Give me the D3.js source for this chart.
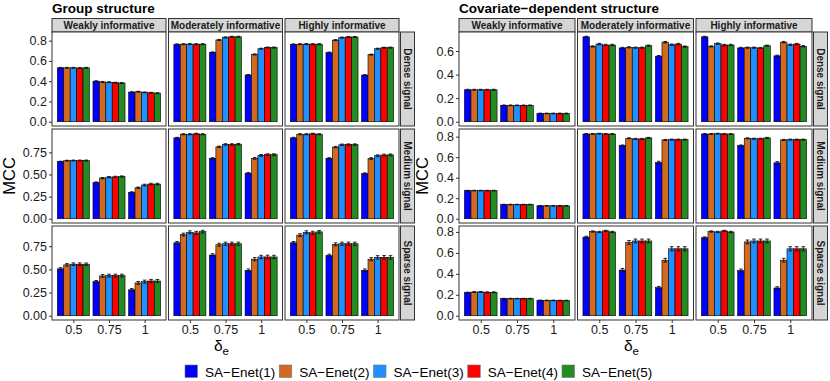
<!DOCTYPE html>
<html><head><meta charset="utf-8">
<script src="https://cdn.jsdelivr.net/npm/d3@7"></script>
<style>body{margin:0;background:#fff}svg{display:block;font-family:"Liberation Sans",Arial,sans-serif}</style>
</head><body><svg id="c" width="830" height="381"></svg>
<script>
const methods = ["SA\u2212Enet(1)","SA\u2212Enet(2)","SA\u2212Enet(3)","SA\u2212Enet(4)","SA\u2212Enet(5)"];
const methodColors = ["#0000FF","#D2691E","#1E90FF","#FF0000","#228B22"];
const deltas = ["0.5","0.75","1"];
const priors = ["Weakly informative","Moderately informative","Highly informative"];
const signals = ["Dense signal","Medium signal","Sparse signal"];
const structures = ["Group structure","Covariate\u2212dependent structure"];

// Group structure: [delta][method]
const grpDenseWeak = [[0.532,0.532,0.532,0.530,0.532],[0.400,0.392,0.390,0.385,0.382],[0.292,0.296,0.290,0.286,0.282]];
const grpDenseMod  = [[0.763,0.765,0.766,0.765,0.765],[0.684,0.807,0.832,0.838,0.838],[0.461,0.664,0.720,0.732,0.732]];
const grpDenseHigh = [[0.763,0.765,0.766,0.765,0.765],[0.682,0.805,0.830,0.836,0.836],[0.460,0.662,0.720,0.730,0.731]];
const seGrpDenseWeak = [[0.004,0.004,0.004,0.004,0.004],[0.004,0.004,0.004,0.004,0.004],[0.004,0.004,0.004,0.004,0.004]];
const seGrpDense     = [[0.005,0.005,0.005,0.005,0.005],[0.005,0.005,0.005,0.005,0.005],[0.005,0.005,0.005,0.005,0.005]];
const grpMedWeak   = [[0.645,0.656,0.658,0.658,0.658],[0.410,0.459,0.470,0.473,0.477],[0.298,0.350,0.381,0.392,0.392]];
const grpMedMod    = [[0.914,0.955,0.955,0.960,0.955],[0.683,0.813,0.840,0.840,0.843],[0.515,0.683,0.716,0.724,0.724]];
const grpMedHigh   = [[0.914,0.955,0.955,0.960,0.955],[0.683,0.810,0.836,0.838,0.838],[0.510,0.680,0.712,0.720,0.722]];
const seGrpMedWeak = [[0.005,0.005,0.005,0.005,0.005],[0.006,0.007,0.007,0.007,0.007],[0.007,0.008,0.009,0.009,0.009]];
const seGrpMed     = [[0.006,0.006,0.006,0.006,0.006],[0.007,0.008,0.008,0.008,0.008],[0.008,0.010,0.010,0.010,0.010]];
const grpSparseWeak= [[0.506,0.549,0.556,0.556,0.556],[0.368,0.429,0.433,0.433,0.433],[0.280,0.354,0.368,0.375,0.375]];
const grpSparseMod = [[0.787,0.876,0.900,0.894,0.907],[0.655,0.766,0.777,0.777,0.777],[0.489,0.610,0.634,0.634,0.634]];
const grpSparseHigh= [[0.787,0.870,0.900,0.895,0.905],[0.650,0.770,0.777,0.777,0.777],[0.490,0.610,0.630,0.630,0.630]];
const seGrpSparseWeak = [[0.012,0.013,0.014,0.014,0.013],[0.012,0.014,0.015,0.015,0.015],[0.013,0.015,0.016,0.017,0.016]];
const seGrpSparse     = [[0.014,0.015,0.016,0.016,0.015],[0.014,0.016,0.017,0.017,0.017],[0.015,0.017,0.018,0.019,0.018]];

// Covariate-dependent structure
const covDenseWeak = [[0.271,0.271,0.271,0.271,0.271],[0.139,0.139,0.139,0.139,0.139],[0.070,0.070,0.070,0.070,0.070]];
const covDenseMod  = [[0.720,0.639,0.659,0.651,0.651],[0.626,0.631,0.628,0.628,0.645],[0.556,0.675,0.653,0.659,0.637]];
const covDenseHigh = [[0.720,0.639,0.662,0.651,0.651],[0.626,0.628,0.628,0.626,0.645],[0.559,0.675,0.653,0.659,0.640]];
const seCovDenseWeak = [[0.004,0.004,0.004,0.004,0.004],[0.003,0.003,0.003,0.003,0.003],[0.003,0.003,0.003,0.003,0.003]];
const seCovDense     = [[0.005,0.005,0.006,0.006,0.006],[0.005,0.005,0.005,0.005,0.005],[0.006,0.006,0.006,0.006,0.006]];
const covMedWeak   = [[0.274,0.274,0.274,0.274,0.274],[0.138,0.138,0.138,0.138,0.138],[0.126,0.126,0.126,0.126,0.126]];
const covMedMod    = [[0.826,0.826,0.829,0.826,0.826],[0.713,0.784,0.778,0.778,0.788],[0.548,0.768,0.771,0.771,0.771]];
const covMedHigh   = [[0.826,0.826,0.829,0.826,0.826],[0.713,0.784,0.780,0.780,0.788],[0.545,0.768,0.771,0.771,0.771]];
const seCovMedWeak = [[0.003,0.003,0.003,0.003,0.003],[0.003,0.003,0.003,0.003,0.003],[0.003,0.003,0.003,0.003,0.003]];
const seCovMed     = [[0.004,0.004,0.004,0.004,0.004],[0.006,0.005,0.005,0.005,0.005],[0.012,0.005,0.005,0.005,0.005]];
const covSparseWeak= [[0.221,0.226,0.227,0.224,0.224],[0.163,0.163,0.163,0.163,0.163],[0.147,0.146,0.146,0.145,0.145]];
const covSparseMod = [[0.751,0.804,0.800,0.810,0.800],[0.436,0.700,0.714,0.714,0.714],[0.268,0.530,0.639,0.639,0.639]];
const covSparseHigh= [[0.745,0.804,0.800,0.810,0.800],[0.430,0.705,0.714,0.714,0.714],[0.265,0.530,0.639,0.639,0.639]];
const seCovSparseWeak = [[0.004,0.004,0.004,0.004,0.004],[0.003,0.003,0.003,0.003,0.003],[0.003,0.003,0.003,0.003,0.003]];
const seCovSparse     = [[0.008,0.006,0.006,0.006,0.006],[0.015,0.018,0.018,0.018,0.018],[0.012,0.018,0.020,0.020,0.020]];

const yTicksGrp = [[0,0.2,0.4,0.6,0.8],[0,0.25,0.5,0.75],[0,0.25,0.5,0.75]];
const yTicksCov = [[0,0.2,0.4,0.6],[0,0.2,0.4,0.6,0.8],[0,0.2,0.4,0.6,0.8]];
const yFmtGrp = [".1f",".2f",".2f"];
const yFmtCov = [".1f",".1f",".1f"];

// assemble: se[row][prior]
const plots = [
  {title: structures[0], vals: [[grpDenseWeak,grpDenseMod,grpDenseHigh],[grpMedWeak,grpMedMod,grpMedHigh],[grpSparseWeak,grpSparseMod,grpSparseHigh]],
   se: [[seGrpDenseWeak,seGrpDense,seGrpDense],[seGrpMedWeak,seGrpMed,seGrpMed],[seGrpSparseWeak,seGrpSparse,seGrpSparse]],
   ticks: yTicksGrp, fmt: yFmtGrp, x0: 52, pw: 114, gap: 2.5, mccX: 10},
  {title: structures[1], vals: [[covDenseWeak,covDenseMod,covDenseHigh],[covMedWeak,covMedMod,covMedHigh],[covSparseWeak,covSparseMod,covSparseHigh]],
   se: [[seCovDenseWeak,seCovDense,seCovDense],[seCovMedWeak,seCovMed,seCovMed],[seCovSparseWeak,seCovSparse,seCovSparse]],
   ticks: yTicksCov, fmt: yFmtCov, x0: 459, pw: 116, gap: 2.5, mccX: 423}
];

const svg = d3.select("#c");
const rowTop = [32, 129, 226], rowH = 94, stripH = 13.5, stripW = 14;
const txtCol = "#1a1a1a";

plots.forEach(p => {
  svg.append("text").attr("x", p.x0).attr("y", 13).attr("font-size", 13.5).attr("font-weight", "bold")
    .attr("fill", "#000").text(p.title);
  svg.append("text").attr("transform", `translate(${p.mccX + 5},${(rowTop[0] + rowTop[2] + rowH) / 2}) rotate(-90)`)
    .attr("text-anchor", "middle").attr("font-size", 16.5).attr("fill", "#000").text("MCC");
  const panelLeft = c => p.x0 + c * (p.pw + p.gap);
  priors.forEach((pr, c) => {
    const x = panelLeft(c);
    svg.append("rect").attr("x", x).attr("y", rowTop[0] - stripH).attr("width", p.pw).attr("height", stripH)
      .attr("fill", "#d6d6d6").attr("stroke", "#333").attr("stroke-width", 1);
    svg.append("text").attr("x", x + p.pw / 2).attr("y", rowTop[0] - 3.5).attr("text-anchor", "middle")
      .attr("font-size", 10).attr("font-weight", "bold").attr("fill", txtCol).text(pr);
  });
  const rightX = panelLeft(2) + p.pw + 1.5;
  signals.forEach((sg, r) => {
    const yMax = d3.max(p.vals[r], (panel, c) => d3.max(panel, (grp, gi) => d3.max(grp, (v, mi) => v + p.se[r][c][gi][mi])));
    const ext = yMax * 0.05;
    const y = d3.scaleLinear().domain([-ext, yMax + ext]).range([rowTop[r] + rowH, rowTop[r]]);
    svg.append("rect").attr("x", rightX).attr("y", rowTop[r]).attr("width", stripW).attr("height", rowH)
      .attr("fill", "#d6d6d6").attr("stroke", "#333").attr("stroke-width", 1);
    svg.append("text").attr("transform", `translate(${rightX + stripW / 2 - 3.5},${rowTop[r] + rowH / 2}) rotate(90)`)
      .attr("text-anchor", "middle").attr("font-size", 10).attr("font-weight", "bold").attr("fill", txtCol).text(sg);
    const ya = svg.append("g").attr("transform", `translate(${p.x0},0)`)
      .call(d3.axisLeft(y).tickValues(p.ticks[r]).tickSize(3).tickPadding(2).tickFormat(d3.format(p.fmt[r])));
    ya.select(".domain").remove();
    ya.selectAll("line").attr("stroke", "#333");
    ya.selectAll("text").attr("font-size", 12.5).attr("fill", txtCol).attr("font-family", "Liberation Sans, Arial, sans-serif");

    priors.forEach((pr, c) => {
      const px = panelLeft(c);
      const x = d3.scaleLinear().domain([0.4, 3.6]).range([px, px + p.pw]);
      const unit = x(2) - x(1);
      const band = d3.scaleBand().domain(methods).range([-0.45 * unit, 0.45 * unit]).padding(0);
      const g = svg.append("g");
      g.append("rect").attr("x", px).attr("y", rowTop[r]).attr("width", p.pw).attr("height", rowH).attr("fill", "#fff");
      const data = [];
      p.vals[r][c].forEach((grp, gi) => grp.forEach((v, mi) => data.push({gi, mi, v, se: p.se[r][c][gi][mi]})));
      g.selectAll(".bar").data(data).join("rect")
        .attr("x", d => x(d.gi + 1) + band(methods[d.mi]))
        .attr("width", band.bandwidth())
        .attr("y", d => y(d.v)).attr("height", d => y(0) - y(d.v))
        .attr("fill", d => methodColors[d.mi]).attr("stroke", "#000").attr("stroke-width", 0.6);
      const eb = g.selectAll(".eb").data(data).join("g").attr("stroke", "#111").attr("stroke-width", 0.9);
      const cx = d => x(d.gi + 1) + band(methods[d.mi]) + band.bandwidth() / 2;
      eb.append("line").attr("x1", cx).attr("x2", cx).attr("y1", d => y(d.v - d.se)).attr("y2", d => y(d.v + d.se));
      eb.append("line").attr("x1", d => cx(d) - 1.8).attr("x2", d => cx(d) + 1.8).attr("y1", d => y(d.v + d.se)).attr("y2", d => y(d.v + d.se));
      eb.append("line").attr("x1", d => cx(d) - 1.8).attr("x2", d => cx(d) + 1.8).attr("y1", d => y(d.v - d.se)).attr("y2", d => y(d.v - d.se));
      g.append("rect").attr("x", px).attr("y", rowTop[r]).attr("width", p.pw).attr("height", rowH)
        .attr("fill", "none").attr("stroke", "#333").attr("stroke-width", 1);
      if (r === 2) {
        const xa = svg.append("g").attr("transform", `translate(0,${rowTop[r] + rowH})`)
          .call(d3.axisBottom(x).tickValues([1, 2, 3]).tickSize(3).tickPadding(2).tickFormat((d, i) => deltas[i]));
        xa.select(".domain").remove();
        xa.selectAll("line").attr("stroke", "#333");
        xa.selectAll("text").attr("font-size", 12.5).attr("fill", txtCol).attr("font-family", "Liberation Sans, Arial, sans-serif");
      }
    });
  });
  const cxT = (p.x0 + panelLeft(2) + p.pw) / 2;
  const t = svg.append("text").attr("x", cxT - 4).attr("y", 351).attr("text-anchor", "middle").attr("font-size", 15.5).attr("fill", "#000");
  t.append("tspan").text("\u03b4");
  t.append("tspan").attr("font-size", 11.5).attr("dy", 3.5).text("e");
});

const lg = svg.append("g");
const lx = d3.scaleLinear().domain([0, 4]).range([185, 562]);
methods.forEach((m, i) => {
  lg.append("rect").attr("x", lx(i)).attr("y", 365).attr("width", 12.5).attr("height", 12.5)
    .attr("fill", methodColors[i]).attr("stroke", "#777").attr("stroke-width", 0.6);
  lg.append("text").attr("x", lx(i) + 20).attr("y", 376.5).attr("font-size", 13.5).attr("fill", "#000").text(m);
});
</script></body></html>
